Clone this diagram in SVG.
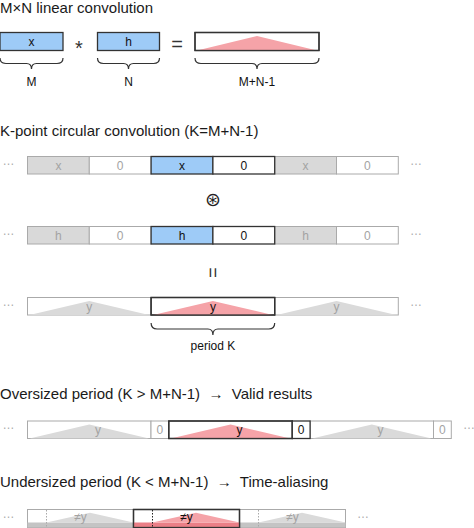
<svg xmlns="http://www.w3.org/2000/svg" width="474" height="528" viewBox="0 0 474 528">
<style>
text{font-family:"Liberation Sans",Arial,sans-serif}
.title{font-size:15px;fill:#1a1a1a}
.lbl{font-size:12px;text-anchor:middle}
.dk{fill:#111}
.lt{fill:#a3a3a3}
.op{font-size:20px;text-anchor:middle;fill:#333}
.dots{font-size:12px;fill:#aaa;text-anchor:middle}
.cg{fill:#d9d9d9;stroke:#aaa;stroke-width:1}
.cw{fill:#fff;stroke:#aaa;stroke-width:1}
.cb{fill:#9ecbf7;stroke:#333;stroke-width:1.3}
.cd{fill:#fff;stroke:#333;stroke-width:1.3}
.co{fill:none;stroke:#333;stroke-width:1.3}
.tg{fill:#dadada}
.tr{fill:#f5a3a8}
.bg{fill:#c4c4c4}
.br{fill:#ea7f87}
.dg{stroke:#aaa;stroke-width:1;stroke-dasharray:1.5 1.5}
.dd{stroke:#222;stroke-width:1;stroke-dasharray:1.5 1.5}
.brace{fill:none;stroke:#333;stroke-width:1.2}
</style>

<g id="section-linear">
<text class="title" x="0" y="13">M×N linear convolution</text>
<g id="x-seq"><rect class="cb" x="0" y="32.5" width="63" height="18"/><text class="lbl dk" x="31.5" y="45.5">x</text></g>
<text class="op" x="79" y="55">*</text>
<g id="h-seq"><rect class="cb" x="97.5" y="32.5" width="62" height="18"/><text class="lbl dk" x="128.5" y="45.5">h</text></g>
<text class="op" x="177" y="50.5">=</text>
<g id="y-seq"><rect class="cd" x="195" y="32.5" width="124" height="18"/><path class="tr" d="M197,50.5 L257,36 L317,50.5 Z"/><rect class="co" x="195" y="32.5" width="124" height="18"/></g>
<g id="braces-linear">
<path class="brace" d="M0,58 q0,5.5 6,5.5 H26.5 q5,0 5,5.5 q0,-5.5 5,-5.5 H57 q6,0 6,-5.5"/>
<path class="brace" d="M97.5,58 q0,5.5 6,5.5 H123.5 q5,0 5,5.5 q0,-5.5 5,-5.5 H153.5 q6,0 6,-5.5"/>
<path class="brace" d="M195,58 q0,5.5 6,5.5 H252 q5,0 5,5.5 q0,-5.5 5,-5.5 H313 q6,0 6,-5.5"/>
</g>
<text class="lbl dk" x="31.5" y="85.5">M</text>
<text class="lbl dk" x="128.5" y="85.5">N</text>
<text class="lbl dk" x="257" y="85.5">M+N-1</text>
</g>

<g id="section-circular">
<text class="title" x="0" y="136">K-point circular convolution (K=M+N-1)</text>
<g id="row-x">
<text class="dots" x="8.5" y="164.5">…</text>
<rect class="cg" x="27.5" y="156.5" width="61.8" height="17.5"/><text class="lbl lt" x="58.4" y="169.5">x</text>
<rect class="cw" x="89.3" y="156.5" width="61.8" height="17.5"/><text class="lbl lt" x="120.2" y="169.5">0</text>
<rect class="cg" x="274.7" y="156.5" width="61.8" height="17.5"/><text class="lbl lt" x="305.6" y="169.5">x</text>
<rect class="cw" x="336.5" y="156.5" width="61.8" height="17.5"/><text class="lbl lt" x="367.4" y="169.5">0</text>
<rect class="cb" x="151.1" y="156.5" width="61.8" height="17.5"/><text class="lbl dk" x="182" y="169.5">x</text>
<rect class="cd" x="212.9" y="156.5" width="61.8" height="17.5"/><text class="lbl dk" x="243.8" y="169.5">0</text>
<text class="dots" x="416" y="164.5">…</text>
</g>
<text x="212.9" y="206" style="font-family:'DejaVu Sans',sans-serif;font-size:19px;text-anchor:middle;fill:#222">⊛</text>
<g id="row-h">
<text class="dots" x="8.5" y="234.5">…</text>
<rect class="cg" x="27.5" y="226.5" width="61.8" height="17.5"/><text class="lbl lt" x="58.4" y="239.5">h</text>
<rect class="cw" x="89.3" y="226.5" width="61.8" height="17.5"/><text class="lbl lt" x="120.2" y="239.5">0</text>
<rect class="cg" x="274.7" y="226.5" width="61.8" height="17.5"/><text class="lbl lt" x="305.6" y="239.5">h</text>
<rect class="cw" x="336.5" y="226.5" width="61.8" height="17.5"/><text class="lbl lt" x="367.4" y="239.5">0</text>
<rect class="cb" x="151.1" y="226.5" width="61.8" height="17.5"/><text class="lbl dk" x="182" y="239.5">h</text>
<rect class="cd" x="212.9" y="226.5" width="61.8" height="17.5"/><text class="lbl dk" x="243.8" y="239.5">0</text>
<text class="dots" x="416" y="234.5">…</text>
</g>
<text transform="translate(212.9 272.5) rotate(90)" x="0" y="6" style="font-size:18px;text-anchor:middle;fill:#333">=</text>
<g id="row-y">
<text class="dots" x="8.5" y="305.5">…</text>
<rect class="cw" x="27.5" y="297.5" width="123.6" height="17.5"/><path class="tg" d="M29.5,315 L89.3,301 L149.1,315 Z"/><text class="lbl lt" x="89.3" y="310.5">y</text>
<rect class="cw" x="274.7" y="297.5" width="123.6" height="17.5"/><path class="tg" d="M276.7,315 L336.5,301 L396.3,315 Z"/><text class="lbl lt" x="336.5" y="310.5">y</text>
<rect class="cd" x="151.1" y="297.5" width="123.6" height="17.5"/><path class="tr" d="M153.1,315 L212.9,301 L272.7,315 Z"/><rect class="co" x="151.1" y="297.5" width="123.6" height="17.5"/><text class="lbl dk" x="212.9" y="310.5">y</text>
<text class="dots" x="416" y="305.5">…</text>
</g>
<path class="brace" d="M151.1,323 q0,6 6,6 H207.9 q5,0 5,6 q0,-6 5,-6 H268.7 q6,0 6,-6"/>
<text class="lbl dk" x="212.9" y="349.5">period K</text>
</g>

<g id="section-oversized">
<text class="title" x="0" y="399" xml:space="preserve">Oversized period (K &gt; M+N-1)  →  Valid results</text>
<text class="dots" x="8.5" y="429">…</text>
<rect class="cw" x="27.5" y="421" width="123.5" height="17.5"/><path class="tg" d="M29.5,438.5 L89.3,424.5 L149,438.5 Z"/><text class="lbl lt" x="98" y="434">y</text>
<rect class="cw" x="151" y="421" width="17.8" height="17.5"/><text class="lbl lt" x="159.9" y="434">0</text>
<rect class="cw" x="310" y="421" width="123.5" height="17.5"/><path class="tg" d="M312,438.5 L371.8,424.5 L431.5,438.5 Z"/><text class="lbl lt" x="380.5" y="434">y</text>
<rect class="cw" x="433.5" y="421" width="17.8" height="17.5"/><text class="lbl lt" x="442.4" y="434">0</text>
<rect class="cd" x="168.8" y="421" width="123.5" height="17.5"/><path class="tr" d="M170.8,438.5 L230.5,424.5 L290.3,438.5 Z"/><rect class="co" x="168.8" y="421" width="123.5" height="17.5"/><text class="lbl dk" x="239.5" y="434">y</text>
<rect class="cd" x="292.3" y="421" width="17.8" height="17.5"/><text class="lbl dk" x="301.2" y="434">0</text>
<text class="dots" x="469" y="429">…</text>
</g>

<g id="section-undersized">
<text class="title" x="0" y="487" xml:space="preserve">Undersized period (K &lt; M+N-1)  →  Time-aliasing</text>
<text class="dots" x="8.5" y="517.5">…</text>
<rect class="cw" x="27.5" y="509.5" width="106" height="18"/>
<rect class="bg" x="27.5" y="522.5" width="106" height="5"/>
<path class="tg" d="M46.5,522.5 L90,512.8 L133.5,522.5 Z"/>
<line class="dg" x1="46.5" y1="510" x2="46.5" y2="527.5"/>
<text class="lbl lt" x="80.5" y="521">≠y</text>
<rect class="cw" x="239.5" y="509.5" width="106" height="18"/>
<rect class="bg" x="239.5" y="522.5" width="106" height="5"/>
<path class="tg" d="M258.5,522.5 L302,512.8 L345.5,522.5 Z"/>
<line class="dg" x1="258.5" y1="510" x2="258.5" y2="527.5"/>
<text class="lbl lt" x="292.5" y="521">≠y</text>
<rect class="cd" x="133.5" y="509.5" width="106" height="18"/>
<rect class="br" x="133.5" y="522.5" width="106" height="5"/>
<path class="tr" d="M152.5,522.5 L196,512.8 L239.5,522.5 Z"/>
<line class="dd" x1="152.5" y1="510" x2="152.5" y2="527.5"/>
<rect class="co" x="133.5" y="509.5" width="106" height="18"/>
<text class="lbl dk" x="186.5" y="521">≠y</text>
<text class="dots" x="363" y="517.5">…</text>
</g>
</svg>
